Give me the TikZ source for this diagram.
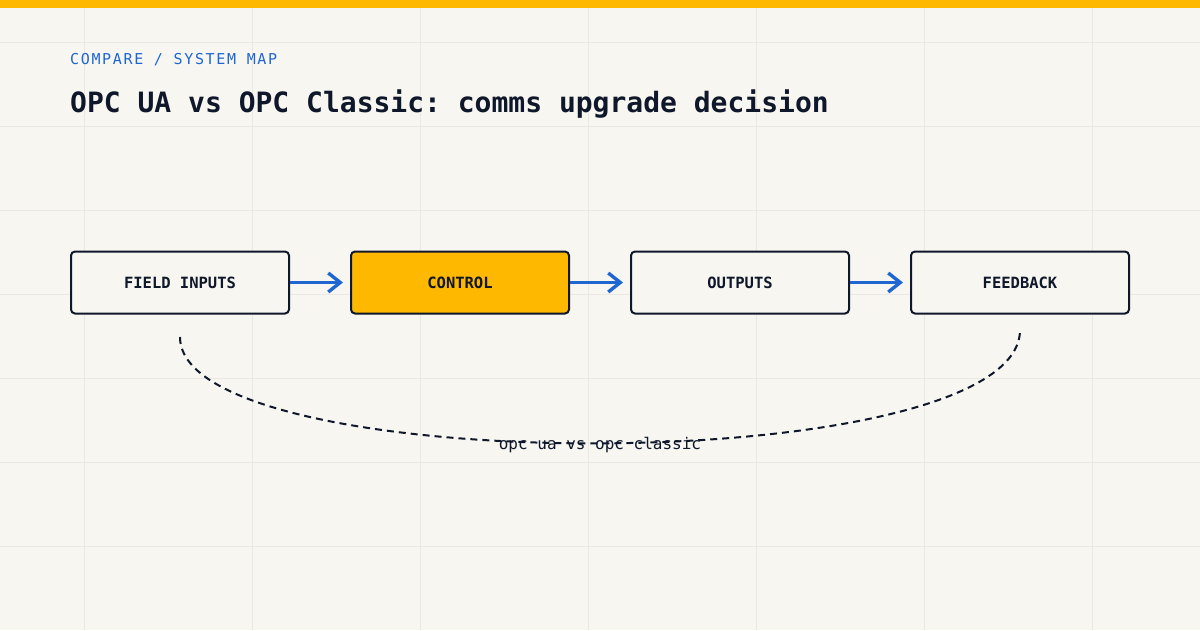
\documentclass[tikz,border=0pt]{standalone}
\usepackage{fontspec}
\setmonofont{DejaVu Sans Mono}
\usetikzlibrary{arrows.meta, positioning}
\definecolor{pagebg}{HTML}{F7F6F1}
\definecolor{gridline}{HTML}{EAE8E1}
\definecolor{accentyellow}{HTML}{FFB800}
\definecolor{linkblue}{HTML}{1F66D1}
\definecolor{inkdark}{HTML}{0F172A}
\tikzset{
    stagebox/.style={rectangle, draw=inkdark, line width=2pt, fill=pagebg, rounded corners=4pt, minimum width=218pt, minimum height=62pt, inner sep=0pt, text=inkdark, font=\ttfamily\bfseries\fontsize{15.5}{18}\selectfont},
    activebox/.style={stagebox, fill=accentyellow},
    flowarrow/.style={-{Straight Barb[length=12pt, width=19pt]}, line width=3.4pt, draw=linkblue, shorten >=7pt},
    loopline/.style={dash pattern=on 7pt off 5pt, line width=2pt, draw=inkdark}
}
\begin{document}
\begin{tikzpicture}[x=1pt, y=-1pt, node distance=60pt]
    \fill[pagebg] (0,0) rectangle (1200,630);
    \useasboundingbox (0,0) rectangle (1200,630);
    \foreach \gx in {84,252,...,1092} \draw[gridline, line width=1pt] (\gx,0) -- (\gx,630);
    \foreach \gy in {42,126,...,546} \draw[gridline, line width=1pt] (0,\gy) -- (1200,\gy);
    \fill[accentyellow] (0,0) rectangle (1200,8);
    \node[anchor=base west, inner sep=0pt, text=linkblue, font=\ttfamily\fontsize{15}{18}\selectfont\addfontfeature{LetterSpace=11}] (eyebrow) at (70,64) {COMPARE / SYSTEM MAP};
    \node[anchor=base west, inner sep=0pt, text=inkdark, font=\ttfamily\bfseries\fontsize{28}{32}\selectfont] (title) at (70,112) {OPC UA vs OPC Classic: comms upgrade decision};
    \node[stagebox] (field) at (180,282.5) {FIELD INPUTS};
    \node[activebox, right=of field] (control) {CONTROL};
    \node[stagebox, right=of control] (outputs) {OUTPUTS};
    \node[stagebox, right=of outputs] (feedback) {FEEDBACK};
    \draw[flowarrow] (field) -- (control);
    \draw[flowarrow] (control) -- (outputs);
    \draw[flowarrow] (outputs) -- (feedback);
    \coordinate (loopstart) at (180,337);
    \coordinate (loopend) at (1020,330);
    \draw[loopline] (loopstart) .. controls (180,480) and (1020,480) .. (loopend)
        node[midway, yshift=-2pt, text=inkdark, font=\ttfamily\fontsize{16}{18}\selectfont] (looplabel) {opc ua vs opc classic};
\end{tikzpicture}
\end{document}
